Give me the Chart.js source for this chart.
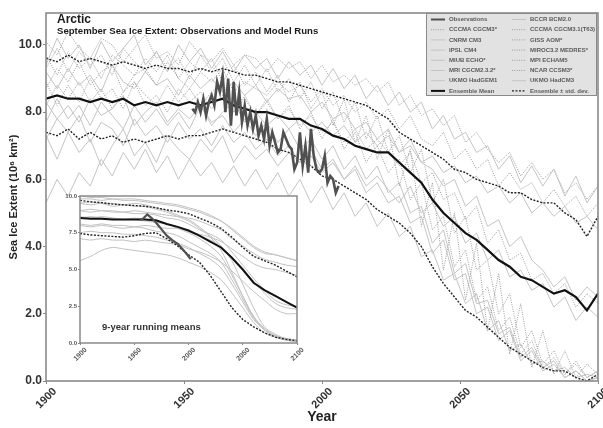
<!DOCTYPE html>
<html>
<head>
<meta charset="utf-8">
<script src="https://cdn.jsdelivr.net/npm/chart.js@4.4.0/dist/chart.umd.min.js"></script>
<style>
body { margin: 0; background: #fff; }
#wrap { position: relative; width: 603px; height: 428px; }
#main { position: absolute; left: 0; top: 0; }
#inset { position: absolute; left: 50px; top: 186px; }
</style>
</head>
<body>
<div id="wrap">
  <canvas id="main" width="603" height="428"></canvas>
  <canvas id="inset" width="265" height="195"></canvas>
</div>
<script>
// ---- main panel data (4-year steps) ----
const years = [1900,1904,1908,1912,1916,1920,1924,1928,1932,1936,1940,1944,1948,1952,1956,1960,1964,1968,1972,1976,
  1980,1984,1988,1992,1996,2000,2004,2008,2012,2016,2020,2024,2028,2032,2036,2040,2044,2048,2052,2056,
  2060,2064,2068,2072,2076,2080,2084,2088,2092,2096,2100];

const ensMean = [8.4,8.5,8.4,8.4,8.3,8.4,8.3,8.4,8.2,8.3,8.2,8.3,8.2,8.3,8.2,8.3,8.4,8.2,8.1,8.0,
  8.0,7.9,7.8,7.8,7.6,7.5,7.3,7.2,7.0,6.9,6.8,6.8,6.5,6.2,5.9,5.4,5.0,4.7,4.4,4.2,
  3.9,3.6,3.4,3.1,3.0,2.8,2.6,2.7,2.5,2.1,2.6];
const ensUpper = [9.6,9.5,9.7,9.5,9.6,9.5,9.4,9.5,9.4,9.3,9.4,9.3,9.3,9.2,9.3,9.2,9.3,9.2,9.1,9.1,
  9.0,8.9,8.9,8.8,8.7,8.6,8.5,8.4,8.3,8.2,8.0,7.8,7.4,7.2,7.0,6.8,6.6,6.3,6.2,6.0,
  5.9,5.8,5.6,5.6,5.4,5.3,5.3,5.0,4.8,4.3,4.9];
const ensLower = [7.4,7.3,7.5,7.2,7.4,7.2,7.3,7.1,7.2,7.1,7.2,7.3,7.2,7.3,7.3,7.4,7.5,7.4,7.3,7.2,
  7.1,6.9,6.8,6.6,6.4,6.1,6.0,5.8,5.6,5.4,5.1,4.9,4.7,4.4,4.0,3.4,2.9,2.5,2.1,1.9,
  1.6,1.3,1.0,0.8,0.6,0.4,0.3,0.3,0.1,0.0,0.2];

const obsYears = [1953,1954,1955,1956,1957,1958,1959,1960,1961,1962,1963,1964,1965,1966,1967,1968,1969,1970,
  1971,1972,1973,1974,1975,1976,1977,1978,1979,1980,1981,1982,1983,1984,1985,1986,1987,1988,1989,1990,
  1991,1992,1993,1994,1995,1996,1997,1998,1999,2000,2001,2002,2003,2004,2005,2006];
const obsVals = [8.1,8.0,8.3,8.0,8.4,7.9,8.3,8.5,8.2,8.9,8.6,9.1,8.0,9.0,7.6,8.9,7.9,8.6,
  7.7,8.2,7.6,8.0,7.5,7.9,7.3,7.6,7.2,7.8,7.0,7.4,7.1,6.8,6.9,7.4,7.2,7.0,6.9,6.3,
  6.5,7.4,6.4,7.0,6.2,7.5,6.7,6.3,6.2,6.3,6.7,5.9,6.1,6.0,5.6,5.8];

const bccr   = [9.4,10.2,9.6,10.0,9.3,10.1,9.5,9.9,10.3,9.4,9.8,9.2,10.0,9.5,9.9,9.3,9.8,9.2,9.7,9.3,9.6,9.0,9.5,9.1,9.4,8.8,9.3,8.7,9.1,8.4,8.8,8.2,8.6,8.0,8.3,7.5,7.9,7.2,7.4,6.8,7.0,6.3,6.7,5.9,6.4,5.8,6.3,5.5,6.1,5.3,5.8];
const giss   = [10.1,9.7,10.4,9.9,9.6,10.2,10.0,9.5,9.9,10.3,9.6,9.8,9.4,10.1,9.7,9.5,9.9,9.4,9.7,9.6,9.2,9.6,9.3,9.5,9.0,9.4,8.9,9.1,8.8,9.0,8.6,8.9,8.2,8.5,7.9,8.1,7.6,7.9,7.1,7.4,6.9,6.5,6.8,6.1,6.5,6.0,6.3,5.6,5.9,5.4,5.8];
const t63    = [8.7,9.3,8.9,9.5,8.8,9.2,9.4,8.6,9.1,9.3,8.8,9.5,9.0,8.7,9.2,8.9,9.3,8.6,8.9,8.7,8.5,8.9,8.6,8.8,8.3,8.7,8.2,8.5,8.0,8.3,7.8,8.1,7.5,7.9,7.2,7.0,7.4,6.6,6.9,6.3,6.6,5.8,6.2,5.7,5.9,5.3,5.7,5.2,5.5,4.9,5.3];
const mri    = [8.3,7.8,8.2,7.7,8.4,7.9,8.1,8.5,7.6,8.0,8.3,7.7,8.1,7.8,8.2,7.6,8.0,8.3,7.7,8.0,7.6,7.9,7.5,7.8,7.4,7.7,7.3,7.6,7.1,7.4,7.0,7.3,6.8,7.0,6.5,6.7,6.2,6.4,5.9,6.1,5.6,5.8,5.3,5.6,5.0,5.3,4.9,5.2,4.7,4.9,4.5];
const hadcm3 = [9.2,8.7,9.3,8.8,9.1,8.6,9.4,8.9,8.7,9.2,8.8,9.0,8.5,9.1,8.7,9.0,8.6,8.9,8.5,8.8,8.3,8.7,8.4,8.5,8.0,8.3,7.8,8.0,7.5,7.7,7.2,7.5,6.8,7.2,6.5,6.3,5.8,6.0,5.2,5.5,4.6,4.8,4.0,4.3,3.6,3.3,2.8,3.1,2.4,2.8,2.5];
const ipsl   = [7.3,6.6,7.4,6.8,7.2,6.4,7.0,7.5,6.7,7.1,6.5,7.3,6.9,6.6,7.2,6.8,7.3,6.5,7.0,6.6,6.9,6.4,6.8,6.5,6.7,6.2,6.5,6.0,6.4,5.8,6.1,5.7,5.3,5.8,5.0,5.3,4.6,4.9,4.1,4.4,3.6,3.9,3.1,3.3,2.7,2.9,2.2,2.5,1.8,2.2,1.9];
const mpi    = [8.2,8.8,8.4,8.9,8.3,8.7,8.1,8.6,8.9,8.2,8.5,8.0,8.7,8.3,8.6,8.1,8.5,8.0,8.4,7.9,8.3,7.8,8.1,7.6,7.9,7.4,7.7,7.1,7.5,6.9,7.2,6.8,6.4,6.8,5.9,6.2,5.4,5.6,4.8,5.2,4.1,4.5,3.6,3.8,3.0,3.2,2.6,2.9,2.2,2.6,2.3];
const cgcm3  = [8.9,8.2,8.8,8.3,9.0,8.4,8.7,8.1,8.9,8.5,8.2,8.8,8.3,8.7,8.2,8.6,8.9,8.0,8.5,7.9,8.4,7.8,8.2,7.5,8.0,7.2,7.8,6.9,7.4,6.5,7.0,6.2,6.6,5.4,5.9,4.5,4.9,3.4,3.9,2.4,2.8,1.5,1.9,0.8,1.2,0.4,0.7,0.2,0.5,0.1,0.3];
const miroc  = [9.3,9.9,9.2,9.8,9.4,9.7,9.1,9.9,9.5,9.2,9.8,9.3,9.6,9.0,9.7,9.2,9.6,8.9,9.4,8.8,9.3,8.6,9.0,8.4,8.9,8.1,8.6,7.7,8.3,7.2,7.9,6.8,7.3,6.2,6.9,5.3,6.0,4.4,4.9,3.3,3.6,2.0,2.6,1.0,1.5,0.5,0.9,0.2,0.6,0.1,0.3];
const ncar   = [9.7,9.1,9.8,9.3,9.6,9.0,9.7,9.4,9.1,9.6,9.2,9.7,9.0,9.5,9.2,9.6,8.9,9.4,8.8,9.2,8.6,9.1,8.3,8.9,8.1,8.6,7.6,8.4,7.1,7.9,6.6,7.5,5.8,6.9,4.6,5.9,3.3,5.0,2.4,4.1,1.5,3.2,0.8,2.3,0.4,1.5,0.2,0.9,0.1,0.5,0.2];
const cnrm   = [7.7,8.4,7.8,8.2,7.6,8.3,7.9,7.5,8.2,7.7,8.1,7.6,8.0,7.5,8.2,7.7,7.9,7.4,7.8,7.3,7.7,7.1,7.5,6.9,7.2,6.6,7.0,6.3,6.7,6.0,6.4,5.6,5.9,5.0,5.2,4.1,4.5,3.2,3.5,2.3,2.4,1.4,1.6,0.7,1.0,0.4,0.6,0.1,0.3,0.0,0.1];
const hadgem = [7.2,7.8,7.4,7.9,7.1,7.7,7.5,7.0,7.8,7.3,7.6,7.1,7.7,7.2,7.5,7.0,7.6,7.1,7.4,6.9,7.2,6.7,7.0,6.5,6.9,6.3,6.6,6.0,6.3,5.6,5.9,5.3,5.5,4.7,4.9,3.8,4.2,3.0,3.2,2.0,2.2,1.2,1.5,0.6,0.9,0.3,0.5,0.1,0.3,0.0,0.1];
const miub   = [5.3,6.0,5.5,6.2,5.8,6.6,6.1,6.8,6.3,6.9,6.2,6.7,6.0,6.6,6.1,6.5,5.9,6.4,5.8,6.3,5.7,6.2,5.5,6.0,5.3,5.8,5.1,5.6,4.9,5.3,4.6,5.0,4.3,4.6,3.7,3.9,3.0,3.2,2.3,2.6,1.5,1.8,0.9,1.1,0.5,0.6,0.3,0.4,0.1,0.2,0.1];

// ---- inset data (9-year running means, read every 10 years) ----
const decades = [1900,1910,1920,1930,1940,1950,1960,1970,1980,1990,2000,2010,2020,2030,2040,2050,2060,2070,2080,2090,2100];
const insetModels = [
  [9.8,9.8,9.7,9.8,9.7,9.7,9.6,9.5,9.4,9.3,9.1,8.9,8.6,8.3,7.7,7.1,6.5,6.1,6.0,5.8,5.6],
  [10.0,9.9,9.9,9.8,9.8,9.8,9.7,9.6,9.5,9.4,9.2,9.0,8.7,8.3,7.8,7.2,6.6,6.2,6.0,5.8,5.6],
  [9.0,9.1,9.0,9.0,8.9,9.0,8.9,8.8,8.7,8.6,8.5,8.3,8.0,7.7,7.1,6.6,6.1,5.7,5.5,5.3,5.2],
  [8.1,8.0,8.1,8.0,8.0,7.9,8.0,7.9,7.8,7.8,7.6,7.4,7.2,6.9,6.4,5.9,5.4,5.1,5.0,4.8,4.6],
  [9.0,8.9,9.0,8.9,8.9,8.8,8.8,8.7,8.5,8.4,8.1,7.7,7.4,7.0,6.2,5.3,4.4,3.6,2.9,2.6,2.5],
  [7.1,7.0,7.1,7.0,7.0,6.9,7.0,6.9,6.8,6.7,6.4,6.2,5.9,5.5,4.9,4.2,3.5,2.9,2.3,2.0,2.0],
  [8.5,8.6,8.5,8.5,8.4,8.4,8.3,8.2,8.1,7.9,7.6,7.3,7.0,6.6,5.8,5.0,4.2,3.4,2.7,2.4,2.3],
  [8.6,8.5,8.6,8.5,8.4,8.5,8.4,8.2,8.1,7.8,7.5,7.1,6.6,5.9,4.6,3.2,1.8,1.0,0.5,0.3,0.2],
  [9.5,9.6,9.5,9.5,9.4,9.5,9.4,9.2,9.0,8.7,8.4,7.9,7.3,6.6,5.6,4.0,2.4,1.1,0.6,0.3,0.2],
  [9.5,9.4,9.5,9.3,9.4,9.3,9.3,9.1,8.9,8.6,8.3,7.8,7.2,6.3,4.8,3.2,1.8,0.9,0.5,0.3,0.2],
  [8.0,7.9,8.0,7.9,7.8,7.9,7.8,7.6,7.5,7.3,6.9,6.5,6.1,5.5,4.3,3.0,1.7,0.9,0.5,0.2,0.1],
  [7.5,7.6,7.5,7.5,7.4,7.4,7.3,7.2,7.0,6.8,6.5,6.1,5.7,5.1,4.0,2.8,1.6,0.9,0.4,0.2,0.1],
  [5.6,5.9,6.3,6.5,6.4,6.3,6.2,6.1,6.0,5.8,5.5,5.2,4.8,4.3,3.4,2.4,1.4,0.7,0.4,0.2,0.1]
];
const insetMean  = [8.5,8.45,8.45,8.4,8.4,8.4,8.4,8.35,8.1,7.9,7.65,7.3,6.9,6.5,5.8,5.0,4.1,3.6,3.2,2.8,2.4];
const insetUpper = [9.7,9.6,9.55,9.45,9.4,9.35,9.3,9.2,9.05,8.95,8.8,8.5,8.2,7.8,7.2,6.5,5.9,5.6,5.3,4.9,4.5];
const insetLower = [7.45,7.35,7.3,7.25,7.2,7.3,7.45,7.5,7.1,6.6,6.0,5.5,4.6,3.5,2.4,1.6,1.1,0.7,0.4,0.25,0.15];
const insetObsYears = [1955,1958,1962,1966,1970,1975,1980,1985,1990,1995,2000,2002];
const insetObsVals  = [8.4,8.45,8.75,8.5,8.2,7.75,7.3,7.0,6.75,6.35,5.9,5.7];

const legendLeft  = ['Observations','CCCMA CGCM3*','CNRM CM3','IPSL CM4','MIUB ECHO*','MRI CGCM2.3.2*','UKMO HadGEM1','Ensemble Mean'];
const legendRight = ['BCCR BCM2.0','CCCMA CGCM3.1(T63)','GISS AOM*','MIROC3.2 MEDRES*','MPI ECHAM5','NCAR CCSM3*','UKMO HadCM3','Ensemble \u00b1 std. dev.'];

const FAM = "'Liberation Sans', Arial, sans-serif";
const solidGray = { color: '#c4c4c4', width: 1, dash: [] };
const dotGray = { color: '#9c9c9c', width: 1, dash: [1, 1.3] };
const styles = {
  'Observations': { color: '#505050', width: 2.6, dash: [] },
  'Ensemble Mean': { color: '#111', width: 2.2, dash: [] },
  'Ensemble \u00b1 std. dev.': { color: '#222', width: 1.4, dash: [2, 1.5] },
  'BCCR BCM2.0': solidGray, 'CNRM CM3': solidGray, 'IPSL CM4': solidGray, 'MIUB ECHO*': solidGray,
  'MRI CGCM2.3.2*': solidGray, 'UKMO HadGEM1': solidGray, 'UKMO HadCM3': solidGray,
  'CCCMA CGCM3*': dotGray, 'CCCMA CGCM3.1(T63)': dotGray, 'GISS AOM*': dotGray,
  'MIROC3.2 MEDRES*': dotGray, 'MPI ECHAM5': dotGray, 'NCAR CCSM3*': dotGray
};

function pts(xs, ys) { return xs.map((x, i) => ({ x: x, y: ys[i] })); }
function ds(name, xs, ys) {
  const s = styles[name];
  return { label: name, data: pts(xs, ys), borderColor: s.color, borderWidth: s.width, borderDash: s.dash, pointRadius: 0, tension: 0 };
}

const modelRuns = [
  ['BCCR BCM2.0', bccr], ['GISS AOM*', giss], ['CCCMA CGCM3.1(T63)', t63], ['MRI CGCM2.3.2*', mri],
  ['UKMO HadCM3', hadcm3], ['IPSL CM4', ipsl], ['MPI ECHAM5', mpi], ['CCCMA CGCM3*', cgcm3],
  ['MIROC3.2 MEDRES*', miroc], ['NCAR CCSM3*', ncar], ['CNRM CM3', cnrm], ['UKMO HadGEM1', hadgem], ['MIUB ECHO*', miub]
];

// first dataset is drawn on top
const mainSets = [
  ds('Observations', obsYears, obsVals),
  ds('Ensemble Mean', years, ensMean),
  ds('Ensemble \u00b1 std. dev.', years, ensUpper),
  ds('Ensemble \u00b1 std. dev.', years, ensLower)
].concat(modelRuns.map(m => ds(m[0], years, m[1])));

const mainDecor = {
  id: 'mainDecor',
  afterDraw(chart) {
    const c = chart.ctx, a = chart.chartArea;
    c.save();
    c.strokeStyle = '#8a8a8a';
    c.lineWidth = 1.6;
    c.strokeRect(a.left, a.top, a.right - a.left, a.bottom - a.top);
    c.fillStyle = '#1a1a1a';
    c.textBaseline = 'middle';
    c.font = 'bold 12px ' + FAM;
    c.fillText('Arctic', 57, 20);
    c.font = 'bold 9.6px ' + FAM;
    c.fillText('September Sea Ice Extent: Observations and Model Runs', 57, 31);
    // legend box
    c.fillStyle = '#e2e2e2';
    c.fillRect(426, 13, 171, 83);
    c.lineWidth = 1;
    c.strokeStyle = '#8a8a8a';
    c.strokeRect(426.5, 13.5, 170, 82);
    c.font = 'bold 6px ' + FAM;
    const entry = (x, y, name) => {
      const s = styles[name];
      c.strokeStyle = s.color;
      c.lineWidth = Math.min(s.width, 2);
      c.setLineDash(s.dash);
      c.beginPath(); c.moveTo(x, y); c.lineTo(x + 14, y); c.stroke();
      c.setLineDash([]);
      c.fillStyle = '#5a5a5a';
      c.fillText(name, x + 18, y);
    };
    legendLeft.forEach((n, i) => entry(431, 19.5 + i * 10.2, n));
    legendRight.forEach((n, i) => entry(512, 19.5 + i * 10.2, n));
    c.restore();
  }
};

new Chart(document.getElementById('main'), {
  type: 'line',
  data: { datasets: mainSets },
  options: {
    responsive: false,
    animation: false,
    layout: { padding: { top: 13, right: 5, left: 0, bottom: 0 } },
    plugins: { legend: { display: false }, tooltip: { enabled: false } },
    scales: {
      x: {
        type: 'linear', min: 1900, max: 2100,
        grid: { display: true, drawOnChartArea: false, tickLength: 3, color: '#888' },
        border: { display: false },
        ticks: { stepSize: 50, minRotation: 45, maxRotation: 45, labelOffset: 9, padding: 1,
          font: { family: FAM, size: 11, weight: 'bold' }, color: '#333', callback: v => String(v) },
        title: { display: true, text: 'Year', font: { family: FAM, size: 14, weight: 'bold' }, color: '#222', padding: { top: 0, bottom: 2 } },
        afterFit(s) { s.height = 47; s.paddingLeft = 0; s.paddingRight = 0; }
      },
      y: {
        min: 0, max: 10.95,
        afterBuildTicks(s) { s.ticks = [0, 2, 4, 6, 8, 10].map(v => ({ value: v })); },
        grid: { display: true, drawOnChartArea: false, tickLength: 3, color: '#888' },
        border: { display: false },
        ticks: { padding: 1, font: { family: FAM, size: 12, weight: 'bold' }, color: '#333', callback: v => v.toFixed(1) },
        title: { display: true, text: 'Sea Ice Extent (10\u2076 km\u00b2)', font: { family: FAM, size: 11, weight: 'bold' }, color: '#222', padding: { top: 7, bottom: 0 } },
        afterFit(s) { s.width = 46; s.paddingTop = 0; s.paddingBottom = 0; }
      }
    }
  },
  plugins: [mainDecor]
});

// ---- inset ----
const insetSets = [
  ds('Observations', insetObsYears, insetObsVals),
  ds('Ensemble Mean', decades, insetMean),
  ds('Ensemble \u00b1 std. dev.', decades, insetUpper),
  ds('Ensemble \u00b1 std. dev.', decades, insetLower)
].concat(insetModels.map(v => ({ data: pts(decades, v), borderColor: '#c2c2c2', borderWidth: 1, pointRadius: 0, tension: 0.3 })));
insetSets[0].borderWidth = 2.2;
insetSets[1].borderWidth = 2;

const insetDecor = {
  id: 'insetDecor',
  beforeDraw(chart) {
    const c = chart.ctx, a = chart.chartArea;
    c.save();
    c.fillStyle = '#fff';
    c.fillRect(a.left, a.top, a.right - a.left, a.bottom - a.top);
    c.restore();
  },
  afterDraw(chart) {
    const c = chart.ctx, a = chart.chartArea;
    c.save();
    c.strokeStyle = '#8a8a8a';
    c.lineWidth = 1.5;
    c.strokeRect(a.left, a.top, a.right - a.left, a.bottom - a.top);
    c.fillStyle = '#333';
    c.font = 'bold 9.5px ' + FAM;
    c.textBaseline = 'middle';
    c.fillText('9-year running means', 52, 141);
    c.restore();
  }
};

new Chart(document.getElementById('inset'), {
  type: 'line',
  data: { datasets: insetSets },
  options: {
    responsive: false,
    animation: false,
    layout: { padding: { top: 10, right: 18, left: 0, bottom: 0 } },
    plugins: { legend: { display: false }, tooltip: { enabled: false } },
    scales: {
      x: {
        type: 'linear', min: 1900, max: 2100,
        grid: { display: true, drawOnChartArea: false, tickLength: 2, color: '#888' },
        border: { display: false },
        ticks: { stepSize: 50, minRotation: 45, maxRotation: 45, labelOffset: 6, padding: 1,
          font: { family: FAM, size: 7, weight: 'bold' }, color: '#555', callback: v => String(v) },
        afterFit(s) { s.height = 38; s.paddingLeft = 0; s.paddingRight = 0; }
      },
      y: {
        min: 0, max: 10,
        afterBuildTicks(s) { s.ticks = [0, 2.5, 5, 7.5, 10].map(v => ({ value: v })); },
        grid: { display: true, drawOnChartArea: false, tickLength: 2, color: '#888' },
        border: { display: false },
        ticks: { padding: 1, font: { family: FAM, size: 6, weight: 'bold' }, color: '#555', callback: v => v.toFixed(1) },
        afterFit(s) { s.width = 30; s.paddingTop = 0; s.paddingBottom = 0; }
      }
    }
  },
  plugins: [insetDecor]
});
</script>
</body>
</html>
